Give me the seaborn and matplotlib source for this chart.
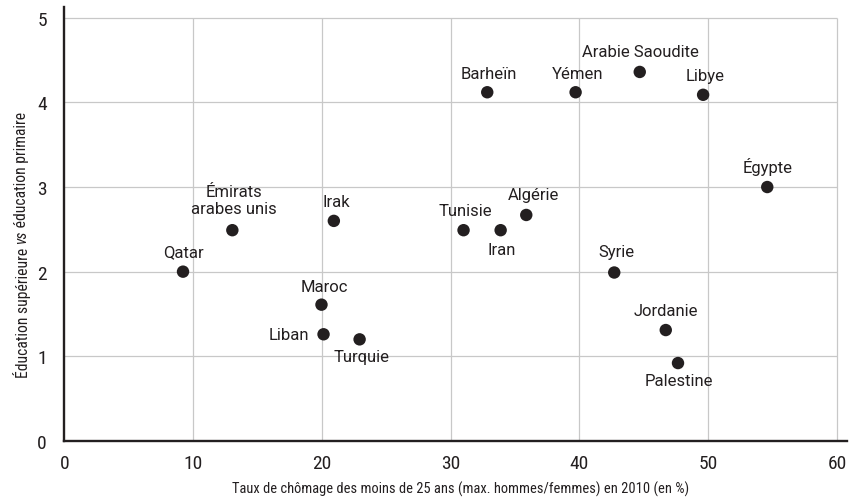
import matplotlib
matplotlib.use("Agg")
import matplotlib.pyplot as plt
from matplotlib import font_manager as fm
from matplotlib.font_manager import FontProperties
import seaborn as sns
import pandas as pd

# ---- data ----
countries = ["Qatar", "Émirats\narabes unis", "Irak", "Maroc", "Liban", "Turquie",
             "Tunisie", "Iran", "Algérie", "Barheïn", "Yémen", "Arabie Saoudite",
             "Libye", "Égypte", "Syrie", "Jordanie", "Palestine"]
chomage = [9.22, 13.05, 20.93, 19.97, 20.13, 22.93,
           31.0, 33.88, 35.87, 32.84, 39.7, 44.68,
           49.6, 54.58, 42.7, 46.7, 47.65]
ratio = [2.00, 2.49, 2.60, 1.61, 1.26, 1.20,
         2.49, 2.49, 2.67, 4.12, 4.12, 4.36,
         4.09, 3.00, 1.99, 1.31, 0.92]
x_ticks = [0, 10, 20, 30, 40, 50, 60]
y_ticks = [0, 1, 2, 3, 4, 5]
x_label = "Taux de chômage des moins de 25 ans (max. hommes/femmes) en 2010 (en %)"
y_label_parts = ["Éducation supérieure ", "vs", " éducation primaire"]

df = pd.DataFrame({"pays": countries, "chomage": chomage, "ratio": ratio})

# ---- style ----
sns.set_style("white")
names = {f.name for f in fm.fontManager.ttflist}
label_font = "Roboto" if "Roboto" in names else "DejaVu Sans"

# look for a condensed face
cond_family, cond_stretch = label_font, "normal"
pref = ["Roboto Condensed", "Liberation Sans Narrow", "Open Sans Condensed",
        "Noto Sans Condensed", "DejaVu Sans Condensed"]
found = None
for p in pref:
    if p in names:
        found = (p, "normal")
        break
if found is None:
    for f in fm.fontManager.ttflist:
        st = str(f.stretch)
        if st in ("condensed", "semi-condensed", "extra-condensed") or st.isdigit() and int(st) < 100:
            found = (f.name, st)
            break
if found is not None:
    cond_family, cond_stretch = found

plt.rcParams["font.family"] = [label_font, "DejaVu Sans"]


def cfp(size, style="normal"):
    return FontProperties(family=[cond_family, "DejaVu Sans"], stretch=cond_stretch,
                          style=style, size=size)


ink = "#231f20"
grid_c = "#c8c8c8"

fig = plt.figure(figsize=(8.5, 5.02), dpi=100)
ax = fig.add_axes([0.0756, 0.1197, 0.9204, 0.8648])

sns.scatterplot(data=df, x="chomage", y="ratio", color=ink, s=80,
                edgecolor="none", ax=ax, zorder=3, legend=False)
ax.set_xlabel("")
ax.set_ylabel("")

ax.set_xlim(0, 60.74)
ax.set_ylim(0, 5.13)

# grid limited to the data box
ax.vlines(x_ticks[1:], 0, y_ticks[-1], colors=grid_c, linewidth=0.9, zorder=1)
ax.hlines(y_ticks[1:], 0, x_ticks[-1], colors=grid_c, linewidth=0.9, zorder=1)

ax.set_xticks(x_ticks)
ax.set_yticks(y_ticks)
ax.tick_params(axis="both", direction="out", length=4.5, width=0.8, color=ink,
               labelcolor=ink)
ax.tick_params(axis="x", pad=5)
ax.tick_params(axis="y", pad=8)
for lab in ax.get_xticklabels() + ax.get_yticklabels():
    lab.set_fontproperties(cfp(14))

for side in ["top", "right"]:
    ax.spines[side].set_visible(False)
for side in ["left", "bottom"]:
    ax.spines[side].set_color(ink)
    ax.spines[side].set_linewidth(1.7)

# axis titles placed as in the reference, width fitted to the reference
fig.canvas.draw()
renderer = fig.canvas.get_renderer()

xt = fig.text(460.5 / 850, 1 - 489 / 502, x_label, ha="center", va="center",
              color=ink, fontproperties=cfp(11))
w = xt.get_window_extent(renderer).width
xt.set_fontproperties(cfp(11 * 455 / w))

# y label in three pieces (italic "vs"), stacked bottom to top
ysize = 11.0
pieces = []
for i, part in enumerate(y_label_parts):
    t = fig.text(0, 0, part, rotation=90, ha="center", va="bottom", color=ink,
                 fontproperties=cfp(ysize, "italic" if i == 1 else "normal"))
    pieces.append(t)
total = sum(t.get_window_extent(renderer).height for t in pieces)
scale = 266 / total
for i, t in enumerate(pieces):
    t.set_fontproperties(cfp(ysize * scale, "italic" if i == 1 else "normal"))
total = sum(t.get_window_extent(renderer).height for t in pieces)
y0 = 245 + total / 2
cur = 502 - y0
for t in pieces:
    t.set_position((22 / 850, cur / 502))
    cur += t.get_window_extent(renderer).height

# label placement (pixel offsets from each dot)
offsets = {
    "Qatar": (0, 20, "center"),
    "Émirats\narabes unis": (2, 30, "center"),
    "Irak": (2, 19, "center"),
    "Maroc": (3, 18, "center"),
    "Liban": (-14, 0, "right"),
    "Turquie": (2, -17, "center"),
    "Tunisie": (2, 20, "center"),
    "Iran": (1, -19, "center"),
    "Algérie": (7, 20, "center"),
    "Barheïn": (2, 19, "center"),
    "Yémen": (2, 19, "center"),
    "Arabie Saoudite": (1, 20, "center"),
    "Libye": (2, 19, "center"),
    "Égypte": (0, 21, "center"),
    "Syrie": (2, 21, "center"),
    "Jordanie": (0, 20, "center"),
    "Palestine": (1, -17, "center"),
}
for name, xv, yv in zip(countries, chomage, ratio):
    dx, dy, ha = offsets[name]
    ax.annotate(name, (xv, yv), xytext=(dx, dy), textcoords="offset pixels",
                ha=ha, va="center", fontsize=12, color=ink,
                family=[label_font, "DejaVu Sans"], linespacing=1.15, zorder=4)

fig.savefig("out.png", dpi=100)
